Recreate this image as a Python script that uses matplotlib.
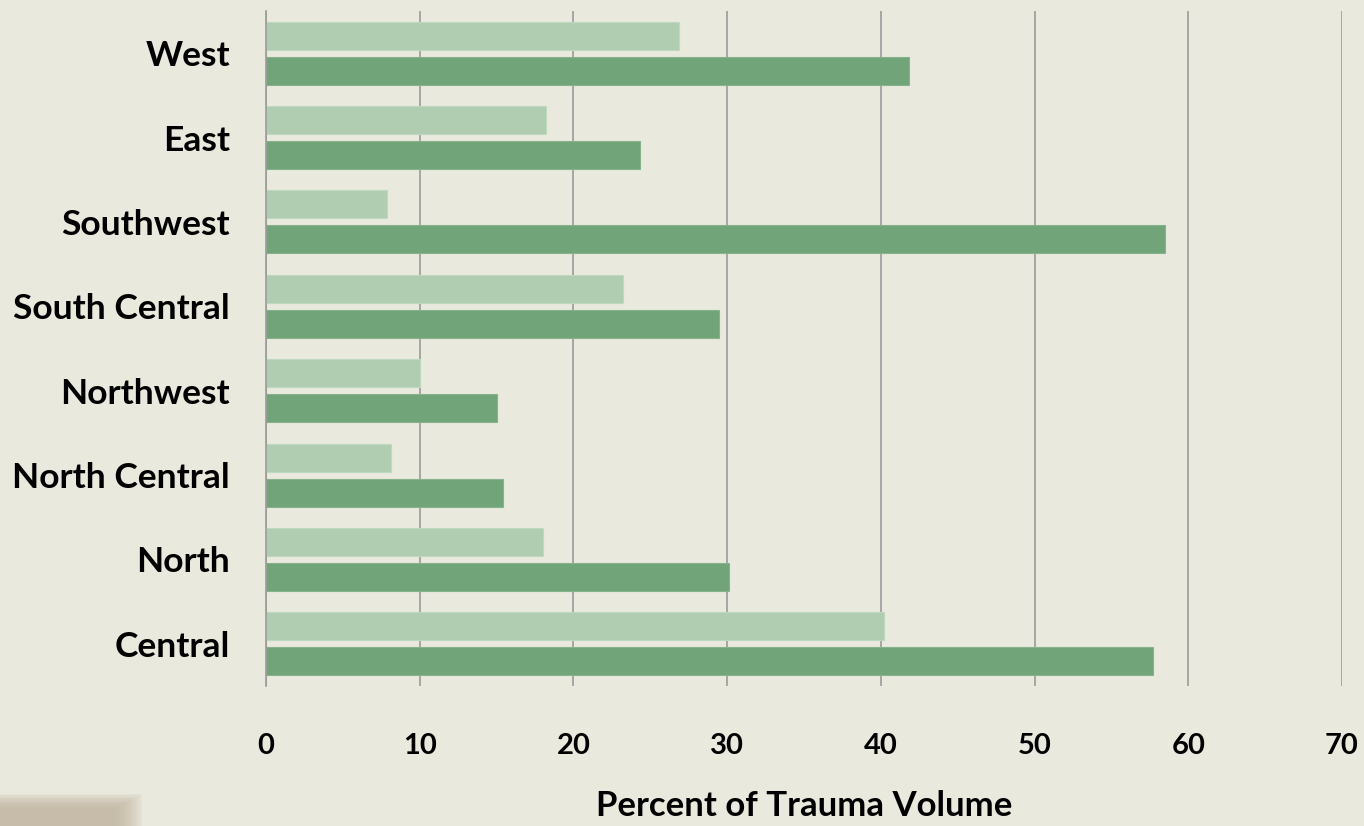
import numpy as np
import matplotlib.pyplot as plt
from matplotlib.patches import Rectangle

# 地區（由上到下）
regions = ["West", "East", "Southwest", "South Central",
           "Northwest", "North Central", "North", "Central"]
light_vals = [26.9, 18.2, 7.9, 23.2, 10.0, 8.1, 18.0, 40.2]
dark_vals = [41.8, 24.3, 58.5, 29.5, 15.0, 15.4, 30.1, 57.7]
x_ticks = [0, 10, 20, 30, 40, 50, 60, 70]

BG = "#EAE9DE"
LIGHT = "#B0CDB1"
DARK = "#71A478"
GRID = "#9A9A9A"

plt.rcParams["font.family"] = ["Lato", "DejaVu Sans"]
plt.rcParams["font.weight"] = "bold"

fig = plt.figure(figsize=(13.64, 8.26), dpi=100, facecolor=BG)
ax = fig.add_axes([266 / 1364, 1 - 686 / 826, 1076 / 1364, 675 / 826])
ax.set_facecolor(BG)

y = np.arange(len(regions))
h = 0.332
off = 0.207
ax.barh(y - off, light_vals, height=h, color=LIGHT, edgecolor="#BFD8C0",
        linewidth=0.8, zorder=3)
ax.barh(y + off, dark_vals, height=h, color=DARK, edgecolor="#86B38B",
        linewidth=0.8, zorder=3)

ax.set_xlim(0, 70)
ax.set_ylim(len(regions) - 0.5, -0.5)
ax.set_xticks(x_ticks)
ax.set_yticks(y)
ax.set_yticklabels(regions, fontsize=25.5, fontweight="bold")
ax.set_xticklabels([str(t) for t in x_ticks], fontsize=21, fontweight="bold")

ax.grid(axis="x", color=GRID, linewidth=1.2, zorder=0)
ax.tick_params(axis="x", length=0, pad=34)
ax.tick_params(axis="y", length=0, pad=26)

for s in ["top", "right", "bottom"]:
    ax.spines[s].set_visible(False)
ax.spines["left"].set_color(GRID)
ax.spines["left"].set_linewidth(1.2)
ax.spines["left"].set_zorder(4)

ax.set_xlabel("Percent of Trauma Volume", fontsize=25, fontweight="bold",
              labelpad=22)

# 左下角的淡褐色方塊（邊緣模糊）
n = 12
for i in range(n):
    w = 142 - i * 2.5
    hh = 32 - i * 1.3
    fig.patches.append(Rectangle((0, 0), w / 1364, hh / 826,
                                 transform=fig.transFigure,
                                 color="#C2B4A0", alpha=0.13, lw=0))

fig.savefig("out.png", dpi=100, facecolor=BG)
